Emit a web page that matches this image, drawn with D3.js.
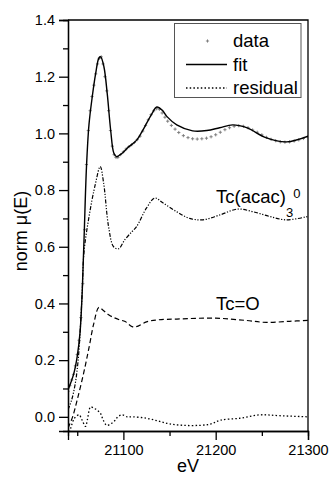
<!DOCTYPE html>
<html>
<head>
<meta charset="utf-8">
<script src="https://cdn.jsdelivr.net/npm/d3@7"></script>
<style>
body { margin: 0; background: #fff; }
svg text { font-family: "Liberation Sans", Arial, sans-serif; fill: #000; }
</style>
</head>
<body>
<div id="chart"></div>
<script>
// measured spectrum (crosses)
const dataE = [21040, 21042, 21044, 21046, 21048, 21050, 21052, 21054, 21056, 21058,
  21060, 21062, 21064, 21066, 21068, 21070, 21072, 21074, 21076, 21078,
  21080, 21082, 21084, 21086, 21088, 21090, 21092, 21094, 21097, 21100,
  21103, 21106, 21109, 21112, 21115, 21118, 21121, 21124, 21127, 21130,
  21133, 21136, 21139, 21142, 21145, 21148, 21152, 21156, 21160, 21165,
  21170, 21175, 21180, 21185, 21190, 21195, 21200, 21205, 21210, 21215,
  21220, 21225, 21230, 21235, 21240, 21245, 21250, 21255, 21260, 21265,
  21270, 21275, 21280, 21285, 21290, 21295, 21300];
const dataMu = [0.09, 0.11, 0.13, 0.15, 0.18, 0.22, 0.27, 0.35, 0.47, 0.66,
  0.89, 1.01, 1.08, 1.13, 1.17, 1.21, 1.245, 1.265, 1.27, 1.245,
  1.20, 1.15, 1.08, 1.01, 0.955, 0.925, 0.915, 0.915, 0.925, 0.935,
  0.945, 0.953, 0.96, 0.968, 0.978, 0.99, 1.008, 1.028, 1.048, 1.066,
  1.08, 1.087, 1.085, 1.072, 1.057, 1.043, 1.028, 1.015, 1.003, 0.992,
  0.985, 0.981, 0.98, 0.981, 0.983, 0.988, 0.995, 1.004, 1.013, 1.02,
  1.025, 1.027, 1.025, 1.02, 1.012, 1.004, 0.995, 0.986, 0.979, 0.974,
  0.97, 0.969, 0.97, 0.973, 0.977, 0.982, 0.988];

// fit
const fitE = [21040, 21043, 21046.5, 21050, 21053, 21055.5, 21057.5, 21060, 21062.7, 21066.3,
  21069.9, 21073.5, 21075.4, 21078.9, 21082.5, 21086.2, 21089.7, 21092.6, 21098.7, 21104.9,
  21109.5, 21114.6, 21120, 21125.4, 21131, 21136.2, 21142, 21147, 21157.8, 21175,
  21190.3, 21204.3, 21218.4, 21233.5, 21255, 21276.8, 21300];
const fitMu = [0.095, 0.12, 0.155, 0.213, 0.296, 0.448, 0.64, 0.88, 1.03, 1.13,
  1.21, 1.266, 1.27, 1.235, 1.14, 1.012, 0.93, 0.918, 0.93, 0.95,
  0.962, 0.977, 1.005, 1.037, 1.07, 1.093, 1.082, 1.06, 1.03, 1.009,
  1.01, 1.02, 1.03, 1.02, 0.984, 0.97, 0.99];

// Tc(acac)3 component
const acacE = [21040, 21044, 21048, 21051, 21053.5, 21055.5, 21057.3, 21062.7, 21069.9, 21074.9,
  21078.6, 21084, 21089.4, 21094.8, 21101.6, 21109.2, 21114.3, 21125.1, 21134.1, 21142.7,
  21157.5, 21171.9, 21186.3, 21204.3, 21223.8, 21240, 21258.4, 21276.4, 21300];
const acacMu = [0.025, 0.06, 0.12, 0.2, 0.32, 0.45, 0.58, 0.705, 0.825, 0.883,
  0.825, 0.67, 0.60, 0.593, 0.625, 0.653, 0.671, 0.737, 0.772, 0.755,
  0.724, 0.70, 0.695, 0.712, 0.733, 0.724, 0.707, 0.695, 0.707];

// Tc=O component
const tcoE = [21040, 21045, 21050, 21057, 21062.7, 21068, 21073.5, 21078, 21084, 21089.7,
  21096, 21102, 21109.5, 21114, 21125, 21137, 21158, 21200, 21233, 21255, 21280, 21300];
const tcoMu = [-0.04, 0.0, 0.06, 0.155, 0.243, 0.33, 0.386, 0.376, 0.36, 0.35,
  0.342, 0.336, 0.318, 0.318, 0.335, 0.342, 0.345, 0.348, 0.34, 0.333, 0.337, 0.34];

// residual
const residE = [21040, 21043, 21047, 21052, 21055, 21059, 21061, 21064.5, 21068, 21071,
  21075, 21078, 21082, 21086, 21090, 21094, 21098.7, 21104, 21110, 21125,
  21138, 21150, 21165, 21183, 21195, 21205, 21226, 21248, 21269, 21300];
const residMu = [-0.08, -0.04, -0.005, 0.007, -0.01, -0.034, -0.01, 0.035, 0.03, 0.025,
  0.013, -0.01, -0.03, -0.025, -0.016, 0.0, 0.007, 0.0, 0.0, -0.005,
  -0.015, -0.025, -0.03, -0.03, -0.025, -0.012, -0.005, 0.007, 0.004, 0.0];

const yTicks = [0.0, 0.2, 0.4, 0.6, 0.8, 1.0, 1.2, 1.4];
const yMinor = [0.1, 0.3, 0.5, 0.7, 0.9, 1.1, 1.3];
const xTicks = [21100, 21200, 21300];
const xMinor = [21050, 21150, 21250];

const margin = { top: 20, right: 21, bottom: 46, left: 68 };
const width = 329 - margin.left - margin.right;
const height = 477 - margin.top - margin.bottom;

const svg = d3.select('#chart')
  .append('svg')
  .attr('width', 329)
  .attr('height', 477);

const g = svg.append('g')
  .attr('transform', `translate(${margin.left},${margin.top})`);

const x = d3.scaleLinear().domain([21040, 21300]).range([0, width]);
const y = d3.scaleLinear().domain([-0.05, 1.4]).range([height, 0]);

g.append('clipPath').attr('id', 'clip')
  .append('rect').attr('width', width).attr('height', height);

const zip = (xs, ys) => xs.map((e, i) => [e, ys[i]]);
const line = d3.line()
  .x(d => x(d[0]))
  .y(d => y(d[1]))
  .curve(d3.curveCatmullRom.alpha(0.5));

const plot = g.append('g').attr('clip-path', 'url(#clip)');

// data crosses
const cross = 'M-1.6,0H1.6M0,-1.6V1.6';
plot.selectAll('.pt')
  .data(zip(dataE, dataMu))
  .enter()
  .append('path')
  .attr('class', 'pt')
  .attr('d', cross)
  .attr('transform', d => `translate(${x(d[0])},${y(d[1])})`)
  .attr('stroke', '#777')
  .attr('stroke-width', 0.9);

const curves = [
  { e: acacE, v: acacMu, dash: '4,1.6,1.2,1.6,1.2,1.6', w: 1.2 },
  { e: tcoE, v: tcoMu, dash: '5,3', w: 1.2 },
  { e: residE, v: residMu, dash: '1.5,2.2', w: 1.3 },
  { e: fitE, v: fitMu, dash: null, w: 1.4 }
];
curves.forEach(c => {
  plot.append('path')
    .datum(zip(c.e, c.v))
    .attr('d', line)
    .attr('fill', 'none')
    .attr('stroke', '#000')
    .attr('stroke-width', c.w)
    .attr('stroke-dasharray', c.dash);
});

// frame
g.append('path')
  .attr('d', `M0,0H${width}V${height}`)
  .attr('fill', 'none')
  .attr('stroke', '#000')
  .attr('stroke-width', 1.3);

// axes
const styleAxis = sel => {
  sel.select('.domain').attr('stroke-width', 1.3);
  sel.selectAll('.tick line').attr('stroke-width', 1.3);
  sel.selectAll('.tick text').style('font-size', '14.5px');
};

g.append('g')
  .call(d3.axisLeft(y).tickValues(yTicks).tickSize(9).tickPadding(4).tickFormat(d3.format('.1f')))
  .call(styleAxis);
g.append('g')
  .call(d3.axisLeft(y).tickValues(yMinor).tickSize(5).tickFormat(''))
  .call(styleAxis);

g.append('g')
  .attr('transform', `translate(0,${height})`)
  .call(d3.axisBottom(x).tickValues(xTicks).tickSize(9).tickPadding(5).tickFormat(d3.format('d')))
  .call(styleAxis);
g.append('g')
  .attr('transform', `translate(0,${height})`)
  .call(d3.axisBottom(x).tickValues(xMinor).tickSize(5).tickFormat(''))
  .call(styleAxis);

// axis titles
svg.append('text')
  .attr('x', margin.left + width / 2)
  .attr('y', 472)
  .attr('text-anchor', 'middle')
  .style('font-size', '18px')
  .text('eV');

svg.append('text')
  .attr('transform', 'translate(27,231) rotate(-90)')
  .attr('text-anchor', 'middle')
  .style('font-size', '18px')
  .text('norm μ(E)');

// component labels
const acacLabel = svg.append('text')
  .attr('x', 216)
  .attr('y', 203)
  .style('font-size', '18.5px');
acacLabel.append('tspan').text('Tc(acac)');
acacLabel.append('tspan').attr('dy', 14).style('font-size', '13px').text('3');
acacLabel.append('tspan').attr('dy', -19).attr('dx', 0).style('font-size', '13px').text('0');

svg.append('text')
  .attr('x', 216)
  .attr('y', 310)
  .style('font-size', '18.5px')
  .text('Tc=O');

// legend
const lg = svg.append('g');
lg.append('rect')
  .attr('x', 174.5).attr('y', 23.5)
  .attr('width', 126.5).attr('height', 74)
  .attr('fill', '#fff')
  .attr('stroke', '#555')
  .attr('stroke-width', 1);
lg.append('path')
  .attr('d', cross)
  .attr('transform', 'translate(207.5,41)')
  .attr('stroke', '#777')
  .attr('stroke-width', 0.9);
lg.append('line')
  .attr('x1', 186).attr('x2', 227).attr('y1', 64.5).attr('y2', 64.5)
  .attr('stroke', '#000').attr('stroke-width', 1.4);
lg.append('line')
  .attr('x1', 186).attr('x2', 227).attr('y1', 88).attr('y2', 88)
  .attr('stroke', '#000').attr('stroke-width', 1.3)
  .attr('stroke-dasharray', '1.5,2.2');
[['data', 47], ['fit', 71], ['residual', 94]].forEach(([t, yy]) => {
  lg.append('text')
    .attr('x', 233)
    .attr('y', yy)
    .style('font-size', '18.5px')
    .text(t);
});
</script>
</body>
</html>
